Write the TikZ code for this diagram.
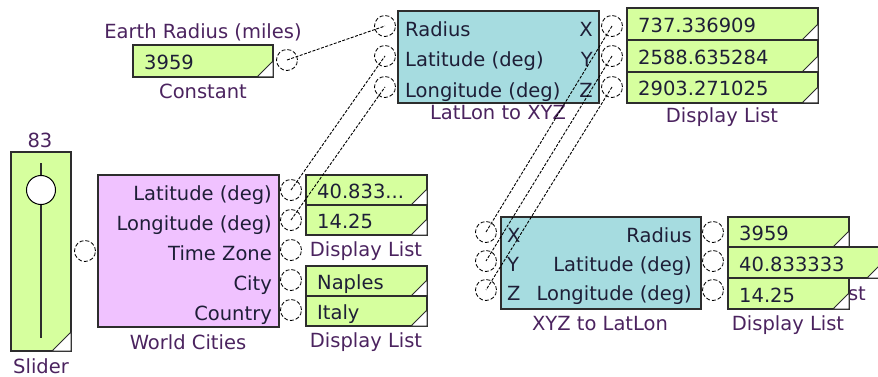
\documentclass[tikz,border=0pt]{standalone}
\usepackage{fontspec}
\setmainfont{DejaVu Sans}

\definecolor{lgreen}{RGB}{214,255,158}
\definecolor{lcyan}{RGB}{166,220,224}
\definecolor{lpink}{RGB}{240,194,255}
\definecolor{edge}{RGB}{45,45,45}
\definecolor{lbltxt}{RGB}{75,35,95}
\definecolor{valtxt}{RGB}{30,30,55}

% white corner of a value box
\newcommand\corner[2]{%
  \filldraw[fill=white,draw=edge,line width=1pt]
    ([xshift=-#2]#1.south east) -- ([yshift=#2]#1.south east) -- (#1.south east) -- cycle;}
% one row of a display list: [height]{name}{centre}{width}{value}
\newcommand\dlrow[5][31pt]{%
  \node[dl,minimum width=#4,minimum height=#1] (#2) at (#3) {};
  \node[val,anchor=west] (#2v) at ([xshift=11pt,yshift=-3.5pt]#2.west) {#5};
  \corner{#2}{16pt}}

\begin{document}
\begin{tikzpicture}[x=1pt,y=-1pt,font=\fontsize{19.5pt}{23pt}\selectfont,
  box/.style={draw=edge,line width=1.2pt,inner sep=0pt,outer sep=0pt},
  dl/.style={box,fill=lgreen},
  val/.style={text=valtxt,inner sep=0pt,text height=14pt,text depth=4pt},
  lbl/.style={text=lbltxt,inner sep=0pt},
  port/.style={circle,draw=black,line width=.8pt,dash pattern=on 4pt off 2pt,
    minimum size=21pt,inner sep=0pt},
  wire/.style={line width=.9pt,dash pattern=on 3pt off 1.5pt}]
  \useasboundingbox (0,0) rectangle (878,377);
  \clip (0,0) rectangle (878,377);

  % constant
  \dlrow[32pt]{const}{203,61}{140pt}{3959}
  \node[lbl] (constname) at (203,32) {Earth Radius (miles)};
  \node[lbl] (consttype) at (203,91) {Constant};
  \node[port] (cout) at (287,60) {};

  % slider
  \node[dl,minimum width=60pt,minimum height=199pt] (slider) at (41,251.5) {};
  \corner{slider}{19pt}
  \draw[edge,line width=1.6pt] (41,163) -- (41,338);
  \node[circle,draw=black,fill=white,line width=1pt,minimum size=29pt,inner sep=0pt] (knob) at (41,190) {};
  \node[lbl] (slval) at (40,140) {83};
  \node[lbl] (slname) at (41,366) {Slider};
  \node[port] (sout) at (85,251) {};

  % world cities
  \node[box,fill=lpink,minimum width=181pt,minimum height=152pt] (wc) at (188.5,251) {};
  \foreach \y/\t/\n in {190/Latitude (deg)/lat,220/Longitude (deg)/lon,
      250/Time Zone/tz,280/City/city,310/Country/cty} {
    \node[val,anchor=east] (wc\n) at (272,\y+5.6) {\t};
    \node[port] (p\n) at (291,\y) {};
  }
  \node[lbl] (wcname) at (188,342) {World Cities};

  \dlrow[30pt]{lat}{366.5,190}{121pt}{40.833...}
  \dlrow[30pt]{lon}{366.5,220}{121pt}{14.25}
  \node[lbl] (latlonname) at (366,251) {Display List};
  \dlrow[30pt]{city}{366.5,281}{121pt}{Naples}
  \dlrow[30pt]{cty}{366.5,311}{121pt}{Italy}
  \node[lbl] (placename) at (366,342) {Display List};

  % latlon to xyz
  \node[box,fill=lcyan,minimum width=201pt,minimum height=92pt] (ll) at (498.5,57) {};
  \foreach \y/\a/\b/\n in {26/Radius/X/1,56/Latitude (deg)/Y/2,87/Longitude (deg)/Z/3} {
    \node[val,anchor=west] (lla\n) at (405,\y+5.6) {\a};
    \node[val,anchor=east] (llb\n) at (593,\y+5.6) {\b};
    \node[port] (llin\n) at (385,\y) {};
    \node[port] (llout\n) at (612,\y) {};
  }
  \node[lbl] (llname) at (498,113) {LatLon to XYZ};

  \dlrow[32pt]{xv}{722.5,24}{191pt}{737.336909}
  \dlrow[32pt]{yv}{722.5,56}{191pt}{2588.635284}
  \dlrow[31pt]{zv}{722.5,87.5}{191pt}{2903.271025}
  \node[lbl] (xyzname) at (722,117) {Display List};

  % xyz to latlon
  \node[box,fill=lcyan,minimum width=200pt,minimum height=92pt] (xyz) at (601,263) {};
  \foreach \y/\a/\b/\n in {232/X/Radius/1,261/Y/Latitude (deg)/2,290/Z/Longitude (deg)/3} {
    \node[val,anchor=west] (xa\n) at (507,\y+5.6) {\a};
    \node[val,anchor=east] (xb\n) at (692,\y+5.6) {\b};
    \node[port] (xin\n) at (486,\y) {};
    \node[port] (xout\n) at (713,\y) {};
  }
  \node[lbl] (xyzlname) at (600,324) {XYZ to LatLon};

  \dlrow[30pt]{rv}{788.5,232}{121pt}{3959}
  \node[lbl,anchor=base east] (hidname) at (866,300) {st};
  \dlrow[31pt]{av}{805.5,262.5}{155pt}{40.833333}
  \dlrow[31pt]{ov}{788.5,293.5}{121pt}{14.25}
  \node[lbl] (resname) at (788,325) {Display List};

  % wires
  \draw[wire] (cout.center) -- (llin1.center);
  \draw[wire] (plat.center) -- (llin2.center);
  \draw[wire] (plon.center) -- (llin3.center);
  \foreach \n in {1,2,3}
    \draw[wire] (llout\n.center) -- (xin\n.center);
\end{tikzpicture}
\end{document}
